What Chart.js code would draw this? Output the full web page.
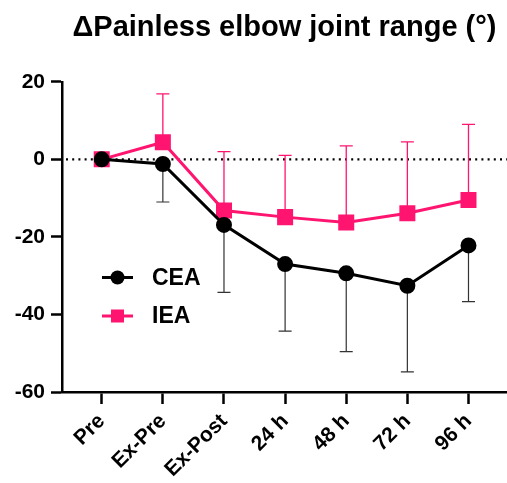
<!DOCTYPE html>
<html>
<head>
<meta charset="utf-8">
<script src="https://cdn.jsdelivr.net/npm/chart.js@4.4.1/dist/chart.umd.min.js"></script>
<style>
  html, body { margin: 0; padding: 0; background: #fff; }
  #wrap { width: 507px; height: 483px; }
</style>
</head>
<body>
<div id="wrap"><canvas id="chart"></canvas></div>
<script>
// time points
const timePoints = ['Pre', 'Ex-Pre', 'Ex-Post', '24 h', '48 h', '72 h', '96 h'];

// CEA means and lower error ends
const ceaMean = [0, -1.2, -16.9, -27.0, -29.4, -32.6, -22.2];
const ceaErrEnd = [0, -11.0, -34.3, -44.3, -49.6, -54.8, -36.7];

// IEA means and upper error ends
const ieaMean = [0, 4.4, -13.2, -14.9, -16.3, -13.9, -10.5];
const ieaErrEnd = [0, 16.9, 2.0, 1.0, 3.5, 4.5, 9.0];

const yTicks = [20, 0, -20, -40, -60];

const PINK = '#ff1470';
const FONT = '"Liberation Sans", Arial, sans-serif';

// dotted zero line + error bars, drawn under the series
const errorBars = {
    id: 'errorBars',
    beforeDatasetsDraw(chart) {
        const { ctx, scales: { x, y }, chartArea } = chart;
        ctx.save();
        // zero reference line
        ctx.strokeStyle = '#000';
        ctx.lineWidth = 2.2;
        ctx.setLineDash([2, 4.2]);
        ctx.beginPath();
        ctx.moveTo(chartArea.left + 4, y.getPixelForValue(0));
        ctx.lineTo(chartArea.right, y.getPixelForValue(0));
        ctx.stroke();
        ctx.setLineDash([]);

        const sets = [
            { mean: ieaMean, end: ieaErrEnd, color: PINK, width: 1.3 },
            { mean: ceaMean, end: ceaErrEnd, color: '#333', width: 1.2 }
        ];
        sets.forEach(s => {
            ctx.strokeStyle = s.color;
            ctx.lineWidth = s.width;
            s.mean.forEach((m, i) => {
                if (s.end[i] === m) return;
                const px = x.getPixelForValue(i);
                const y0 = y.getPixelForValue(m);
                const y1 = y.getPixelForValue(s.end[i]);
                ctx.beginPath();
                ctx.moveTo(px, y0);
                ctx.lineTo(px, y1);
                ctx.moveTo(px - 6.5, y1);
                ctx.lineTo(px + 6.5, y1);
                ctx.stroke();
            });
        });
        ctx.restore();
    }
};

// legend inside the plot area
const innerLegend = {
    id: 'innerLegend',
    afterDraw(chart) {
        const { ctx } = chart;
        const items = [
            { label: 'CEA', color: '#000', shape: 'circle', y: 277.5 },
            { label: 'IEA', color: PINK, shape: 'rect', y: 316 }
        ];
        ctx.save();
        items.forEach(it => {
            ctx.strokeStyle = it.color;
            ctx.fillStyle = it.color;
            ctx.lineWidth = 3;
            ctx.beginPath();
            ctx.moveTo(102, it.y);
            ctx.lineTo(133, it.y);
            ctx.stroke();
            if (it.shape === 'circle') {
                ctx.beginPath();
                ctx.arc(117.5, it.y, 7, 0, Math.PI * 2);
                ctx.fill();
            } else {
                ctx.fillRect(111, it.y - 6.5, 13, 13);
            }
            ctx.fillStyle = '#000';
            ctx.font = 'bold 23px ' + FONT;
            ctx.textBaseline = 'middle';
            ctx.textAlign = 'left';
            ctx.fillText(it.label, 152, it.y + 1);
        });
        ctx.restore();
    }
};

new Chart(document.getElementById('chart'), {
    type: 'line',
    data: {
        datasets: [
            {
                label: 'CEA',
                data: ceaMean.map((v, i) => ({ x: i, y: v })),
                borderColor: '#000',
                backgroundColor: '#000',
                borderWidth: 3,
                pointStyle: 'circle',
                pointRadius: 6.5,
                pointHoverRadius: 6.5,
                tension: 0
            },
            {
                label: 'IEA',
                data: ieaMean.map((v, i) => ({ x: i, y: v })),
                borderColor: PINK,
                backgroundColor: PINK,
                borderWidth: 3,
                pointStyle: 'rect',
                pointRadius: 9.2,
                pointHoverRadius: 9.2,
                tension: 0
            }
        ]
    },
    options: {
        responsive: true,
        maintainAspectRatio: false,
        animation: false,
        layout: { padding: 0, autoPadding: false },
        plugins: {
            legend: { display: false },
            tooltip: { enabled: false },
            title: {
                display: true,
                fullSize: false,
                text: '\u0394Painless elbow joint range (\u00b0)',
                color: '#000',
                font: { family: FONT, size: 29, weight: 'bold' },
                padding: { top: 11, bottom: 36 }
            }
        },
        scales: {
            x: {
                type: 'linear',
                min: -0.65,
                max: 6.63,
                afterBuildTicks: (scale) => {
                    scale.ticks = timePoints.map((_, i) => ({ value: i }));
                },
                afterFit: (scale) => {
                    scale.height = 91;
                    scale.paddingLeft = 0;
                    scale.paddingRight = 0;
                },
                ticks: {
                    autoSkip: false,
                    minRotation: 45,
                    maxRotation: 45,
                    color: '#000',
                    padding: 5,
                    font: { family: FONT, size: 21, weight: 'bold' },
                    callback: (v) => timePoints[v]
                },
                grid: {
                    drawOnChartArea: false,
                    drawTicks: true,
                    tickLength: 12,
                    tickWidth: 2.5,
                    tickColor: '#000'
                },
                border: { display: true, color: '#000', width: 2.5 }
            },
            y: {
                min: -60,
                max: 20,
                afterBuildTicks: (scale) => {
                    scale.ticks = yTicks.map(v => ({ value: v }));
                },
                afterFit: (scale) => { scale.width = 62; },
                ticks: {
                    color: '#000',
                    padding: 6,
                    font: { family: FONT, size: 21, weight: 'bold' }
                },
                grid: {
                    drawOnChartArea: false,
                    drawTicks: true,
                    tickLength: 11,
                    tickWidth: 2.5,
                    tickColor: '#000'
                },
                border: { display: true, color: '#000', width: 2.5 }
            }
        }
    },
    plugins: [errorBars, innerLegend]
});
</script>
</body>
</html>
